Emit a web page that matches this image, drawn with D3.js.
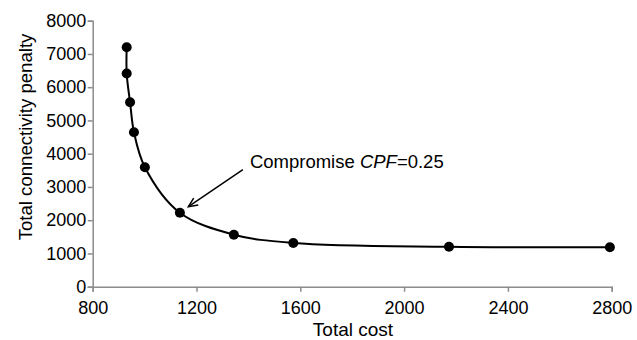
<!DOCTYPE html>
<html>
<head>
<meta charset="utf-8">
<script src="https://cdn.jsdelivr.net/npm/d3@7"></script>
<style>
  body { margin: 0; background: #fff; }
  text { font-family: "Liberation Sans", Arial, sans-serif; fill: #000; }
</style>
</head>
<body>
<script>
// values
var totalCost = [931, 931, 944, 959, 1001, 1136, 1344, 1573, 2173, 2793];
var penalty = [7200, 6410, 5545, 4645, 3595, 2225, 1565, 1315, 1200, 1185];
var xTicks = [800, 1200, 1600, 2000, 2400, 2800];
var yTicks = [0, 1000, 2000, 3000, 4000, 5000, 6000, 7000, 8000];
var note = { cost: 1136, value: 2225, label: "Compromise ", italic: "CPF", rest: "=0.25" };

var margin = { top: 20.7, right: 25.3, bottom: 53.3, left: 92.7 },
    width = 637 - margin.left - margin.right,
    height = 340 - margin.top - margin.bottom;

var svg = d3.select('body')
    .append('svg')
    .attr('width', 637)
    .attr('height', 340);

var g = svg.append('g')
    .attr('transform', 'translate(' + margin.left + ',' + margin.top + ')');

var x = d3.scaleLinear().domain([800, 2800]).range([0, width]);
var y = d3.scaleLinear().domain([0, 8000]).range([height, 0]);

var pts = totalCost.map(function (c, i) { return { x: c, y: penalty[i] }; });

// axes
var xAxis = g.append('g')
    .attr('transform', 'translate(0,' + height + ')')
    .call(d3.axisBottom(x).tickValues(xTicks).tickSize(5).tickPadding(10).tickFormat(d3.format('d')));
var yAxis = g.append('g')
    .call(d3.axisLeft(y).tickValues(yTicks).tickSize(5).tickPadding(1.5).tickFormat(d3.format('d')));

[xAxis, yAxis].forEach(function (a) {
    a.select('.domain').attr('stroke', '#8c8c8c').attr('stroke-width', 1.5);
    a.selectAll('.tick line').attr('stroke', '#8c8c8c').attr('stroke-width', 1.5);
    a.selectAll('.tick text').style('font-size', '18px').attr('fill', '#000')
        .style('font-family', '"Liberation Sans", Arial, sans-serif');
});

// smooth curve
var line = d3.line()
    .x(function (d) { return x(d.x); })
    .y(function (d) { return y(d.y); })
    .curve(d3.curveCatmullRom.alpha(0.5));

g.append('path')
    .datum(pts)
    .attr('d', line)
    .attr('fill', 'none')
    .attr('stroke', '#000')
    .attr('stroke-width', 2);

g.selectAll('circle')
    .data(pts)
    .enter()
    .append('circle')
    .attr('cx', function (d) { return x(d.x); })
    .attr('cy', function (d) { return y(d.y); })
    .attr('r', 5)
    .attr('fill', '#000');

// annotation arrow
var ax = x(note.cost), ay = y(note.value);
var tipX = ax + 8.5, tipY = ay - 6,
    tailX = ax + 63, tailY = ay - 43;
g.append('line')
    .attr('x1', tailX).attr('y1', tailY)
    .attr('x2', tipX).attr('y2', tipY)
    .attr('stroke', '#000').attr('stroke-width', 1.5);
var ang = Math.atan2(tailY - tipY, tailX - tipX);
var head = 10, spread = 0.42;
g.append('path')
    .attr('d', 'M' + (tipX + head * Math.cos(ang - spread)) + ',' + (tipY + head * Math.sin(ang - spread)) +
        'L' + tipX + ',' + tipY +
        'L' + (tipX + head * Math.cos(ang + spread)) + ',' + (tipY + head * Math.sin(ang + spread)))
    .attr('fill', 'none').attr('stroke', '#000').attr('stroke-width', 1.5);

var t = g.append('text')
    .attr('x', ax + 70)
    .attr('y', ay - 45)
    .style('font-size', '18.5px');
t.append('tspan').text(note.label);
t.append('tspan').style('font-style', 'italic').text(note.italic);
t.append('tspan').text(note.rest);

// axis titles
svg.append('text')
    .attr('x', 353)
    .attr('y', 336)
    .attr('text-anchor', 'middle')
    .style('font-size', '19px')
    .text('Total cost');

svg.append('text')
    .attr('transform', 'translate(31.5,137) rotate(-90)')
    .attr('text-anchor', 'middle')
    .style('font-size', '18.6px')
    .text('Total connectivity penalty');
</script>
</body>
</html>
